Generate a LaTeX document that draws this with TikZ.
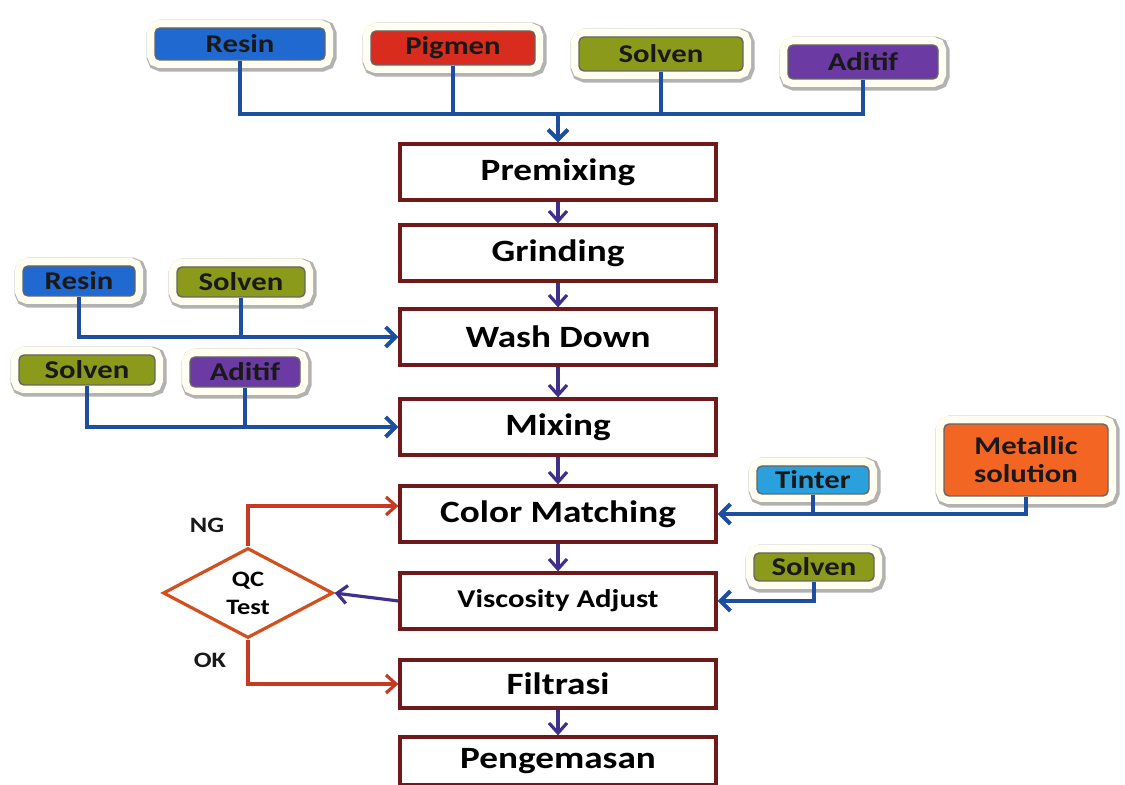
\documentclass[tikz,border=0pt]{standalone}
\usepackage{fontspec}
\setmainfont{Carlito}[FakeStretch=1.2]
\usetikzlibrary{arrows.meta,shapes.geometric,calc}
\definecolor{resinblue}{HTML}{2069D1}
\definecolor{pigred}{HTML}{D92B1E}
\definecolor{solgreen}{HTML}{8C9A1C}
\definecolor{adpurple}{HTML}{6B3AA3}
\definecolor{tintblue}{HTML}{2AA0DC}
\definecolor{metorange}{HTML}{F26522}
\definecolor{lineblue}{HTML}{1D4FA0}
\definecolor{arrowpurple}{HTML}{40308C}
\definecolor{boxred}{HTML}{6E1A1A}
\definecolor{redarrow}{HTML}{C63A22}
\definecolor{qcorange}{HTML}{D2501E}
\begin{document}
\begin{tikzpicture}[x=0.5pt,y=-0.5pt,
  proc/.style={draw=boxred, line width=1.6pt, fill=white, minimum width=158pt,
    minimum height=28pt, inner sep=0pt, font=\bfseries\fontsize{15.5}{17}\selectfont},
  tag/.style={fill=#1, draw=black!60, line width=0.7pt, rounded corners=2.5pt,
    inner sep=1pt, align=center, font=\bfseries\fontsize{12.8}{14}\selectfont, text=black!90,
    preaction={draw=black!30, fill=none, line width=10pt,
      transform canvas={xshift=0.8pt,yshift=-0.8pt}},
    preaction={draw=white!94!yellow, fill=none, line width=8pt}},
  feed/.style={draw=lineblue, line width=2pt},
  feedarrow/.style={feed, -{Straight Barb[length=5pt,width=10pt]}},
  flow/.style={draw=arrowpurple, line width=1.6pt, -{Straight Barb[length=5pt,width=9pt]}},
  qcline/.style={draw=redarrow, line width=1.6pt, -{Straight Barb[length=5pt,width=9pt]}},
  lbl/.style={font=\bfseries\fontsize{11}{12}\selectfont, text=black!90}
]
\useasboundingbox (0,0) rectangle (1125,785);

% main process boxes
\node[proc] (pre) at (558,172) {Premixing};
\node[proc] (gri) at (558,253) {Grinding};
\node[proc] (wd)  at (558,337) {Wash Down};
\node[proc] (mix) at (558,427) {Mixing};
\node[proc] (cm)  at (558,514) {Color Matching};
\node[proc, font=\bfseries\fontsize{12.8}{14}\selectfont] (vis) at (558,601) {Viscosity Adjust};
\node[proc, minimum height=24pt] (fil) at (558,684) {Filtrasi};
\node[proc, minimum height=24pt] (pen) at (558,761) {Pengemasan};

% top inputs
\node[tag=resinblue, minimum width=85pt, minimum height=16pt] (t1) at (240,44) {Resin};
\node[tag=pigred,   minimum width=82pt, minimum height=17pt] (t2) at (453,48) {Pigmen};
\node[tag=solgreen, minimum width=82pt, minimum height=17pt] (t3) at (661,54) {Solven};
\node[tag=adpurple, minimum width=75pt, minimum height=17pt] (t4) at (863,62) {Aditif};
\coordinate (join) at (558,114);

\draw[feed] (t1.south) -- (t1.south |- join) -- (t4.south |- join) -- (t4.south);
\draw[feed] (t2.south) -- (t2.south |- join);
\draw[feed] (t3.south) -- (t3.south |- join);
\draw[feedarrow] (join) -- (pre.north);

% left inputs
\node[tag=resinblue, minimum width=56pt, minimum height=15pt] (r2) at (79,281) {Resin};
\node[tag=solgreen,  minimum width=64pt, minimum height=15pt] (s2) at (241,282) {Solven};
\node[tag=solgreen,  minimum width=68pt, minimum height=15pt] (s3) at (87,370) {Solven};
\node[tag=adpurple,  minimum width=55pt, minimum height=15pt] (a2) at (245,372) {Aditif};

\draw[feedarrow] (r2.south) |- (wd.west);
\draw[feed] (s2.south) -- (s2.south |- wd.west);
\draw[feedarrow] (s3.south) |- (mix.west);
\draw[feed] (a2.south) -- (a2.south |- mix.west);

% right inputs
\node[tag=tintblue,  minimum width=56pt, minimum height=14pt] (tin) at (813,480) {Tinter};
\node[tag=metorange, minimum width=82pt, minimum height=36pt] (met) at (1026,460) {Metallic\\solution};
\node[tag=solgreen,  minimum width=60pt, minimum height=14pt] (s4) at (814,567) {Solven};

\draw[feedarrow] (met.south) |- (cm.east);
\draw[feed] (tin.south) -- (tin.south |- cm.east);
\draw[feedarrow] (s4.south) |- (vis.east);

% main flow
\draw[flow] (pre) -- (gri);
\draw[flow] (gri) -- (wd);
\draw[flow] (wd) -- (mix);
\draw[flow] (mix) -- (cm);
\draw[flow] (cm) -- (vis);
\draw[flow] (fil) -- (pen);

% QC test
\node[diamond, draw=qcorange, line width=1.6pt, fill=white, minimum width=85pt,
  minimum height=45pt, inner sep=0pt, aspect=1.9, align=center,
  font=\bfseries\fontsize{11}{14}\selectfont] (qc) at (248,593) {QC\\Test};
\draw[flow] (vis.west) -- (qc.east);
\draw[qcline] (qc.north) |- ($(cm.west)+(0,-8)$);
\draw[qcline] (qc.south) |- (fil.west);
\node[lbl] (ng) at (207,525) {NG};
\node[lbl] (ok) at (210,660) {OK};
\end{tikzpicture}
\end{document}
